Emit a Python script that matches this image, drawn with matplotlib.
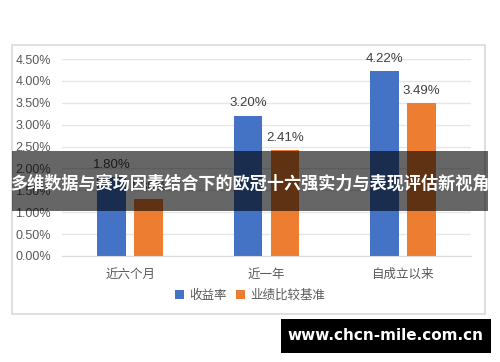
import matplotlib.pyplot as plt
import numpy as np
from matplotlib.patches import Rectangle

plt.rcParams['font.family'] = ['Liberation Sans', 'Noto Sans CJK SC', 'DejaVu Sans']

categories = ['近六个月', '近一年', '自成立以来']
series_names = ['收益率', '业绩比较基准']
returns = [1.80, 3.20, 4.22]
benchmark = [1.30, 2.41, 3.49]
yticks = [0.0, 0.5, 1.0, 1.5, 2.0, 2.5, 3.0, 3.5, 4.0, 4.5]
title = '多维数据与赛场因素结合下的欧冠十六强实力与表现评估新视角'
watermark = 'www.chcn-mile.com.cn'

W, H = 500, 362
fig = plt.figure(figsize=(W / 100, H / 100), dpi=100)

def fx(px):
    return px / W

def fy(py):
    return 1 - py / H

# chart frame
fig.patches.append(Rectangle((fx(12), fy(314)), fx(473), 269 / H, transform=fig.transFigure,
                             fill=False, edgecolor='#d9d9d9', linewidth=1.2))

ax = fig.add_axes([fx(62), fy(256), fx(471 - 62), (256 - 59) / H])
x = np.arange(len(categories))
w = 0.21
off = 0.136
b1 = ax.bar(x - off, returns, w, color='#4472c4', label=series_names[0])
b2 = ax.bar(x + off, benchmark, w, color='#ed7d31', label=series_names[1])
for bars, vals in ((b1, returns), (b2, benchmark)):
    for r, v in zip(bars, vals):
        ax.text(r.get_x() + r.get_width() / 2, v + 0.15, '%.2f%%' % v,
                ha='center', va='bottom', fontsize=9.5, color='#404040')

ax.set_xlim(-0.5, 2.5)
ax.set_ylim(0, 4.5)
ax.set_yticks(yticks)
ax.set_yticklabels(['%.2f%%' % t for t in yticks], fontsize=9, color='#595959')
ax.set_xticks(x)
ax.set_xticklabels(categories, fontsize=9, color='#595959')
ax.tick_params(length=0)
ax.tick_params(axis='x', pad=9)
ax.tick_params(axis='y', pad=8)
ax.grid(axis='y', color='#e6e6e6', linewidth=1)
ax.set_axisbelow(True)
for s in ['top', 'right', 'left']:
    ax.spines[s].set_visible(False)
ax.spines['bottom'].set_color('#d9d9d9')

fig.legend(handles=[b1, b2], labels=series_names, loc='center', bbox_to_anchor=(fx(250), fy(296)),
           ncol=2, frameon=False, fontsize=9, handlelength=0.7, handleheight=0.7,
           handletextpad=0.4, columnspacing=0.8, labelcolor='#595959')

# banner overlay
fig.patches.append(Rectangle((fx(12), fy(211)), fx(476), 60 / H, transform=fig.transFigure,
                             facecolor='black', alpha=0.6, edgecolor='none', zorder=5))
fig.text(fx(250), fy(184), title, ha='center', va='center', color='white', fontsize=12.3,
         fontweight='bold', family=['Noto Sans CJK SC', 'DejaVu Sans'], zorder=6)

# watermark box
fig.patches.append(Rectangle((fx(281), fy(353)), fx(210), 34 / H, transform=fig.transFigure,
                             facecolor='black', edgecolor='none', zorder=5))
fig.text(fx(385), fy(336), watermark, ha='center', va='center', color='white', fontsize=11,
         fontweight='bold', family=['DejaVu Sans'], zorder=6)

fig.savefig('out.png', dpi=100)
